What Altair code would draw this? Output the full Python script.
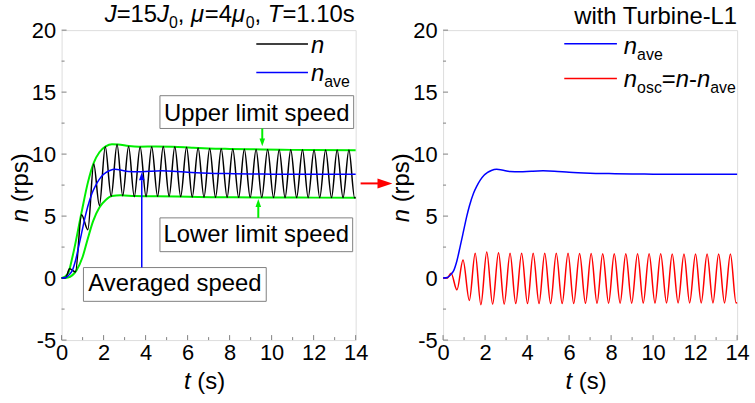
import altair as alt
import pandas as pd

# ---------------- data ----------------
t_ave = [0, 0.2, 0.38, 0.5, 0.66, 0.82, 0.95, 1.13, 1.25, 1.45, 1.6, 1.77, 1.95, 2.1,
         2.3, 2.55, 2.8, 3.18, 3.66, 4.2, 4.76, 5.3, 6.0, 7.0, 7.9, 9.0, 10.0, 12.0, 14.0]
n_ave = [0, 0.05, 0.3, 0.58, 1.4, 2.6, 3.6, 5.0, 5.8, 6.85, 7.4, 7.9, 8.3, 8.5,
         8.68, 8.77, 8.72, 8.6, 8.57, 8.62, 8.65, 8.62, 8.53, 8.46, 8.43, 8.4, 8.38, 8.37, 8.37]

t_osc = [0, 0.2, 0.38, 0.66, 0.95, 1.25, 1.53, 1.80, 2.08, 2.36, 2.64, 2.91, 3.19, 3.46,
         3.74, 4.02, 4.29, 4.57, 4.84, 5.12, 5.39, 5.67, 5.95, 6.22, 6.50, 6.78, 7.05,
         7.33, 7.60, 7.88, 8.15, 8.43, 8.70, 8.98, 9.26, 9.53, 9.81, 10.09, 10.36, 10.64,
         10.91, 11.19, 11.47, 11.74, 12.02, 12.29, 12.57, 12.85, 13.12, 13.40, 13.68, 13.95, 14.0]
n_osc = [0, 0.0, 0.4, -0.95, 1.45, -1.8, 2.0, -2.15, 2.1, -2.1, 2.05, -2.1, 2.0, -2.05,
         2.0, -2.05, 2.0, -2.05, 2.0, -2.05, 2.0, -2.05, 2.0, -2.05, 1.98, -2.03, 1.98,
         -2.03, 1.97, -2.02, 1.97, -2.02, 1.97, -2.02, 1.96, -2.01, 1.96, -2.01, 1.96, -2.0,
         1.95, -2.0, 1.95, -2.0, 1.95, -2.0, 1.95, -2.0, 1.95, -2.0, 1.95, -2.0, -1.97]
n_full = [0, 0.05, 0.75, 0.5, 5.1, 3.9, 9.2, 5.85, 10.6, 6.6, 10.78, 6.65, 10.62, 6.57,
          10.58, 6.58, 10.6, 6.6, 10.62, 6.6, 10.6, 6.58, 10.55, 6.55, 10.5, 6.53, 10.46,
          6.52, 10.43, 6.52, 10.41, 6.51, 10.39, 6.51, 10.38, 6.5, 10.37, 6.5, 10.36, 6.5,
          10.35, 6.5, 10.35, 6.49, 10.34, 6.49, 10.34, 6.49, 10.33, 6.49, 10.33, 6.48, 6.5]

t_up = [0, 0.3, 0.53, 0.95, 1.25, 1.53, 1.8, 2.1, 2.4, 2.7, 3.2, 3.7, 4.5, 5.3, 6.2,
        7.0, 8.0, 9.0, 10.5, 12.0, 14.0]
n_up = [0, 0.35, 1.8, 5.3, 7.7, 9.3, 10.15, 10.62, 10.8, 10.78, 10.65, 10.6, 10.62, 10.6,
        10.52, 10.46, 10.42, 10.39, 10.35, 10.33, 10.32]
t_lo = [0, 0.3, 0.7, 1.0, 1.25, 1.5, 1.8, 2.1, 2.4, 2.8, 3.5, 4.5, 5.5, 6.5, 8.0, 10.0, 12.0, 14.0]
n_lo = [0, 0.05, 0.6, 1.7, 3.2, 4.6, 5.7, 6.3, 6.62, 6.68, 6.62, 6.6, 6.58, 6.54, 6.52,
        6.5, 6.49, 6.48]

x_major = [0, 2, 4, 6, 8, 10, 12, 14]
x_minor = [1, 3, 5, 7, 9, 11, 13]
y_major = [-5, 0, 5, 10, 15, 20]
y_minor = [-2.5, 2.5, 7.5, 12.5, 17.5]

# ---------------- styling ----------------
W, H = 296, 312
FONT = "Liberation Sans"
FRAME = "#808080"
BLUE, RED, GREEN, BLACK = "#0000ff", "#ff0000", "#00ee00", "#000000"

ARIAL = {c: 556 for c in "0123456789naeo"}
ARIAL.update({"=": 584, ",": 278, " ": 278, ".": 278, "s": 500, "J": 500, "T": 611,
              "\u03bc": 576, "-": 333, "v": 500, "c": 500})


def wid(s, size):
    return sum(ARIAL.get(ch, 556) for ch in s) * size / 1000.0


X = alt.X("t:Q", scale=alt.Scale(domain=[0, 14], nice=False, zero=False),
          axis=alt.Axis(title=None, values=x_major, ticks=False, domain=False, grid=False,
                        labelFontSize=22, labelColor="black", labelPadding=3,
                        labelFlush=False, labelOverlap=False, labelFont=FONT))
Y = alt.Y("v:Q", scale=alt.Scale(domain=[-5, 20], nice=False, zero=False),
          axis=alt.Axis(title=None, values=y_major, ticks=False, domain=False, grid=False,
                        labelFontSize=22, labelColor="black", labelPadding=6,
                        labelExpr="'' + datum.value", labelOverlap=False, labelFont=FONT))


def one():
    return alt.Data(values=[{"k": 0}])


def line(ts, vs, color, sw=1.5):
    df = pd.DataFrame({"t": ts, "v": vs})
    return alt.Chart(df).mark_line(color=color, strokeWidth=sw, interpolate="monotone").encode(x=X, y=Y)


def text_at(s, x, y, size=24, italic=False, align="left", angle=0):
    kw = dict(text=s, fontSize=size, align=align, baseline="alphabetic", color="black", font=FONT)
    if italic:
        kw["fontStyle"] = "italic"
    if angle:
        kw["angle"] = angle
    return alt.Chart(one()).mark_text(**kw).encode(x=alt.value(x), y=alt.value(y))


def rich(segs, x0, y0, right=False):
    total = sum(wid(s, sz) for s, it, sz, dy in segs)
    x = x0 - total if right else x0
    out = []
    for s, it, sz, dy in segs:
        if s.strip():
            out.append(text_at(s.strip(), x, y0 + dy, size=sz, italic=it))
        x += wid(s, sz)
    return out


def hline(x1, x2, y, color, sw=1.5):
    return alt.Chart(one()).mark_rule(color=color, strokeWidth=sw).encode(
        x=alt.value(x1), x2=alt.value(x2), y=alt.value(y))


def vline(x, y1, y2, color, sw=1.5):
    return alt.Chart(one()).mark_rule(color=color, strokeWidth=sw).encode(
        x=alt.value(x), y=alt.value(y1), y2=alt.value(y2))


def head(x, y, shape, size, color):
    return alt.Chart(one()).mark_point(shape=shape, size=size, filled=True, color=color,
                                       opacity=1, strokeWidth=0).encode(
        x=alt.value(x), y=alt.value(y))


def box(x1, y1, x2, y2, label, ybase):
    r = alt.Chart(one()).mark_rect(fill="white", stroke=FRAME, strokeWidth=1).encode(
        x=alt.value(x1), x2=alt.value(x2), y=alt.value(y1), y2=alt.value(y2))
    t = text_at(label, (x1 + x2) / 2, ybase, size=24, align="center")
    return [r, t]


def ticks():
    out = []
    for vals, ln in ((x_major, 5), (x_minor, 3)):
        df = pd.DataFrame({"t": vals})
        out.append(alt.Chart(df).mark_rule(color=FRAME, strokeWidth=1).encode(
            x=X, y=alt.value(H), y2=alt.value(H - ln)))
    for vals, ln in ((y_major, 5), (y_minor, 3)):
        df = pd.DataFrame({"v": vals})
        out.append(alt.Chart(df).mark_rule(color=FRAME, strokeWidth=1).encode(
            y=Y, x=alt.value(0), x2=alt.value(ln)))
    return out


SP = wid(" ", 24)


def axis_titles():
    return [
        text_at("t", 130, 361, size=24, italic=True, align="right"),
        text_at("(s)", 130 + SP, 361, size=24, align="left"),
        text_at("n", -34, 180, size=24, italic=True, align="right", angle=270),
        text_at("(rps)", -34, 180 - SP, size=24, align="left", angle=270),
    ]


DOWN = "M-0.7,-1L0.7,-1L0,1Z"
UP = "M-0.7,1L0.7,1L0,-1Z"
RIGHT = "M-1,-0.67L1,0L-1,0.67Z"

# ---------------- left panel ----------------
left_layers = ticks() + [
    line(t_up, n_up, GREEN, 2),
    line(t_lo, n_lo, GREEN, 2),
    line(t_osc, n_full, BLACK, 1.5),
    line(t_ave, n_ave, BLUE, 1.5),
]
left_layers += box(99, 66, 294, 99, "Upper limit speed", 91)
left_layers += box(99, 189, 293, 223, "Lower limit speed", 213)
left_layers += box(22, 239, 206, 273, "Averaged speed", 263)
left_layers += [
    vline(202, 99, 110, GREEN, 2), head(202, 113, DOWN, 64, GREEN),
    vline(198, 178, 189, GREEN, 2), head(198, 174, UP, 64, GREEN),
    vline(80.7, 151, 239, BLUE, 1.5), head(80.7, 147, UP, 64, BLUE),
    hline(301, 319, 154.3, RED, 2), head(325.5, 154.3, RIGHT, 225, RED),
    hline(196, 248, 14, BLACK), hline(196, 248, 42.7, BLUE),
]
left_layers += [text_at("n", 251, 22.7, italic=True)]
left_layers += rich([("n", True, 24, 0), ("ave", False, 16, 6)], 251, 51)
left_layers += rich([("J", True, 24, 0), ("=15", False, 24, 0), ("J", True, 24, 0),
                     ("0", False, 16, 6), (", ", False, 24, 0), ("\u03bc", True, 24, 0),
                     ("=4", False, 24, 0), ("\u03bc", True, 24, 0), ("0", False, 16, 6),
                     (", ", False, 24, 0), ("T", True, 24, 0), ("=1.10s", False, 24, 0)],
                    295, -8, right=True)
left_layers += axis_titles()
left = alt.layer(*left_layers).properties(width=W, height=H)

# ---------------- right panel ----------------
right_layers = ticks() + [
    line(t_osc, n_osc, RED, 1.5),
    line(t_ave, n_ave, BLUE, 1.5),
    hline(122, 175, 13.7, BLUE), hline(122, 175, 48.7, RED),
]
right_layers += rich([("n", True, 24, 0), ("ave", False, 16, 6)], 182, 23.7)
right_layers += rich([("n", True, 24, 0), ("osc", False, 16, 6), ("=", False, 24, 0),
                      ("n", True, 24, 0), ("-", False, 24, 0), ("n", True, 24, 0),
                      ("ave", False, 16, 6)], 182, 57)
right_layers += [text_at("with Turbine-L1", 296, -6, size=24, align="right")]
right_layers += axis_titles()
right = alt.layer(*right_layers).properties(width=W, height=H)

chart = alt.hconcat(left, right, spacing=88, bounds="flush").properties(
    padding={"left": 8, "top": 1, "right": 5, "bottom": 5}
).configure_view(stroke=FRAME, strokeWidth=1).configure(font=FONT, background="white")

chart.save("out.html", embed_options={"renderer": "svg", "actions": False})
